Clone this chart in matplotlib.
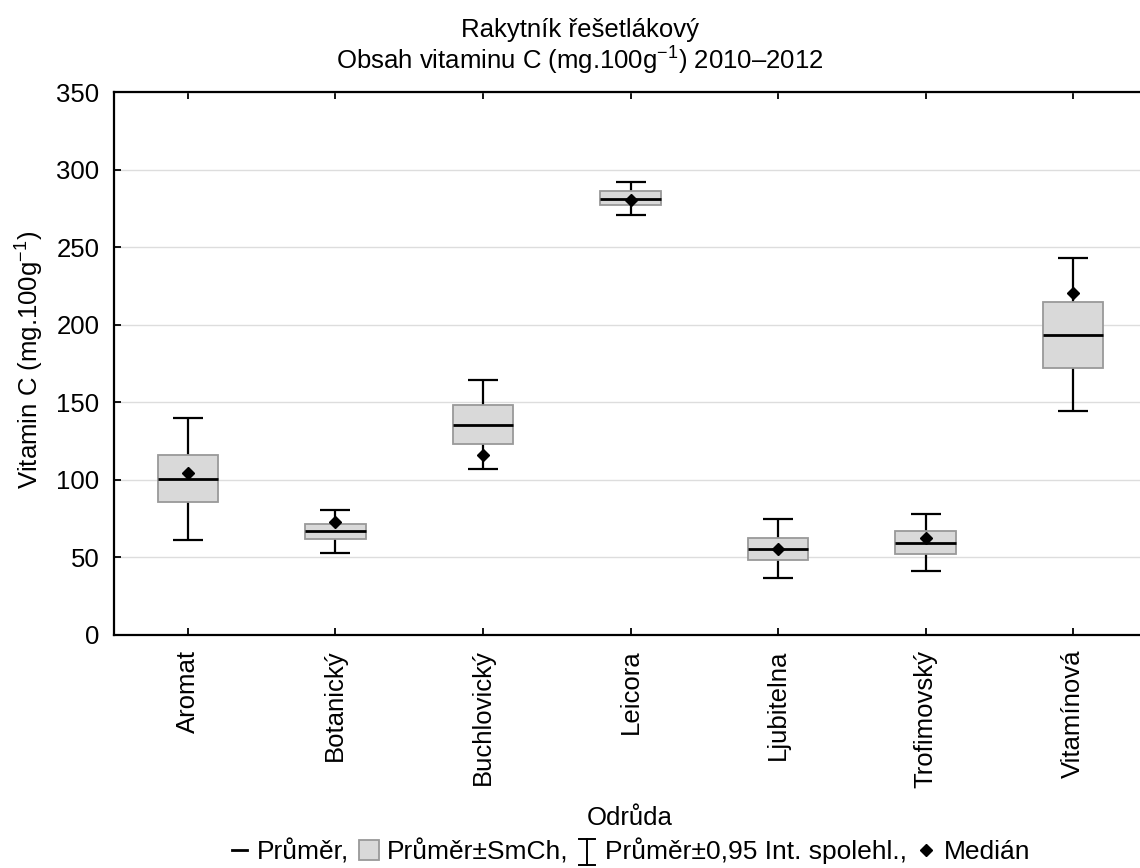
import matplotlib
matplotlib.use("Agg")
import matplotlib.pyplot as plt
from matplotlib.patches import Patch
from matplotlib.lines import Line2D
from matplotlib.legend_handler import HandlerBase
import numpy as np

plt.rcParams['font.family'] = ['Liberation Sans', 'DejaVu Sans']
plt.rcParams['mathtext.fontset'] = 'custom'
plt.rcParams['mathtext.rm'] = 'Liberation Sans'
plt.rcParams['mathtext.it'] = 'Liberation Sans'
plt.rcParams['mathtext.default'] = 'regular'

categories = ["Aromat", "Botanický", "Buchlovický", "Leicora", "Ljubitelna", "Trofimovský", "Vitamínová"]
mean_vals = [100.5, 66.8, 135.5, 281.4, 55.5, 59.4, 193.6]
se_low = [85.5, 61.6, 123.1, 277.1, 48.3, 52.3, 172.1]
se_high = [116.0, 71.9, 148.3, 286.1, 62.6, 67.0, 214.9]
ci_low = [61.4, 53.2, 106.8, 270.8, 36.9, 41.0, 144.4]
ci_high = [140.1, 80.3, 164.4, 292.1, 74.5, 78.1, 242.9]
median_vals = [104.2, 73.0, 116.0, 280.5, 55.2, 62.6, 220.7]
yticks = [0, 50, 100, 150, 200, 250, 300, 350]

FS = 18.5
LFS = 19
W, H = 1140, 868
fig = plt.figure(figsize=(W/100, H/100), dpi=100)
ax = fig.add_axes([114/W, (H-635)/H, (1147-114)/W, (635-92.3)/H])

x = np.arange(len(categories))
mean_a = np.array(mean_vals)
ax.errorbar(x, mean_a, yerr=[mean_a-np.array(ci_low), np.array(ci_high)-mean_a],
            fmt='none', ecolor='black', elinewidth=1.6, capsize=11, capthick=1.6, zorder=2)
bw = 0.41
ax.bar(x, np.array(se_high)-np.array(se_low), bottom=se_low, width=bw,
       color='#d9d9d9', edgecolor='#999999', linewidth=1.3, zorder=3)
ax.hlines(mean_vals, x-bw/2, x+bw/2, colors='black', linewidth=2.0, zorder=4)
ax.plot(x, median_vals, linestyle='none', marker='D', color='black', markersize=6.3, zorder=5)

ax.set_xlim(-0.5, 6.5)
ax.set_ylim(0, 350)
ax.set_yticks(yticks)
ax.set_xticks(x)
ax.set_xticklabels(categories, rotation=90)
ax.grid(axis='y', color='#dddddd', linewidth=1.0)
ax.set_axisbelow(True)
ax.spines['right'].set_visible(False)
for s in ['left', 'top', 'bottom']:
    ax.spines[s].set_linewidth(1.6)
ax.tick_params(axis='both', direction='in', length=5, width=1.3, labelsize=FS, pad=10.5)
ax.tick_params(axis='x', top=True)
ax.tick_params(axis='y', right=False)

fig.text(580/W, 1-30/H, "Rakytník řešetlákový", ha='center', va='center', fontsize=FS)
fig.text(580/W, 1-61/H, "Obsah vitaminu C (mg.100g$^{-1}$) 2010–2012", ha='center', va='center', fontsize=FS)
fig.text(30/W, 1-360/H, "Vitamin C (mg.100g$^{-1}$)", ha='center', va='center', rotation=90, fontsize=FS)
fig.text(630/W, 1-818/H, "Odrůda", ha='center', va='center', fontsize=FS)


class IBeamHandler(HandlerBase):
    def create_artists(self, legend, orig_handle, xdescent, ydescent, width, height, fontsize, trans):
        cx = -xdescent + width / 2
        y0 = -ydescent - 0.25 * height
        y1 = -ydescent + 1.05 * height
        hw = 0.4 * width
        arts = [Line2D([cx, cx], [y0, y1], color='black', linewidth=1.4),
                Line2D([cx - hw, cx + hw], [y0, y0], color='black', linewidth=1.4),
                Line2D([cx - hw, cx + hw], [y1, y1], color='black', linewidth=1.4)]
        for a in arts:
            a.set_transform(trans)
        return arts


class ShortLineHandler(HandlerBase):
    def create_artists(self, legend, orig_handle, xdescent, ydescent, width, height, fontsize, trans):
        cy = -ydescent + height / 2
        ln = Line2D([-xdescent + 0.1 * width, -xdescent + 0.9 * width], [cy, cy], color='black', linewidth=2.0)
        ln.set_transform(trans)
        return [ln]


class IBeamKey:
    pass


class DashKey:
    pass


h_mean = DashKey()
h_box = Patch(facecolor='#d9d9d9', edgecolor='#999999', linewidth=1.3)
h_ci = IBeamKey()
h_med = Line2D([], [], linestyle='none', marker='D', color='black', markersize=6)
leg = fig.legend([h_mean, h_box, h_ci, h_med],
                 ["Průměr,", "Průměr±SmCh,", "Průměr±0,95 Int. spolehl.,", "Medián"],
                 loc='center', bbox_to_anchor=(630/W, 1-851/H), ncol=4, frameon=False,
                 fontsize=LFS, handlelength=0.75, handletextpad=0.3, columnspacing=0.35,
                 borderpad=0, handleheight=0.8,
                 handler_map={DashKey: ShortLineHandler(), IBeamKey: IBeamHandler()})

fig.savefig("out.png", dpi=100)
